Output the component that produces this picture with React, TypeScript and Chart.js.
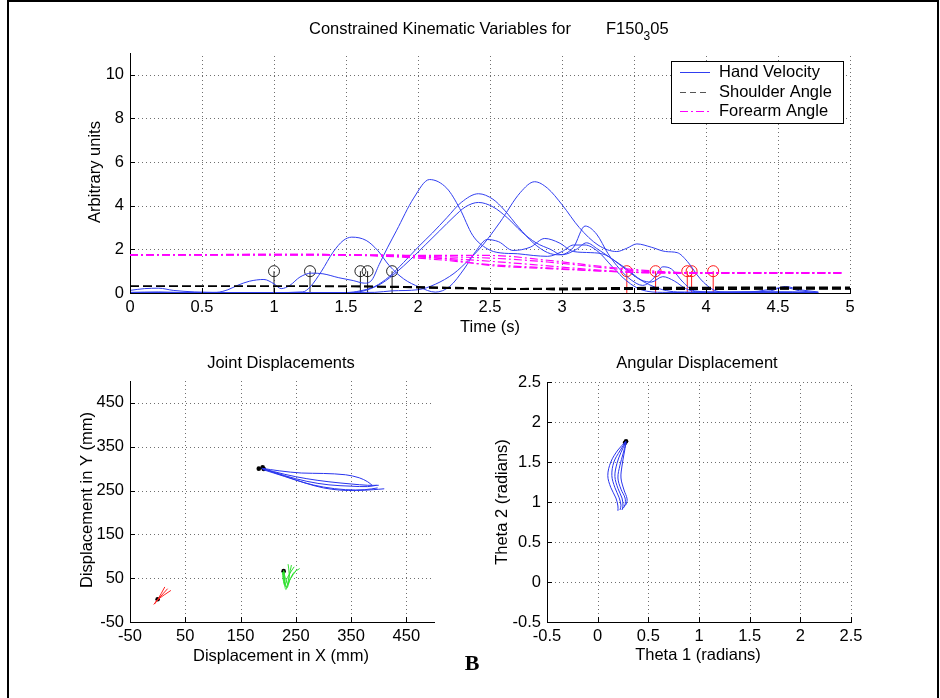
import React, { useEffect, useRef } from "react";
import { Chart, registerables } from "chart.js";

Chart.register(...registerables);

const FONT = "'Liberation Sans', Arial, Helvetica, sans-serif";
const FONT_SIZE = 16.5;
const GRID_COLOR = "#6f6f6f";
const VEL_COLOR = "rgb(48, 62, 240)";
const SHOULDER_COLOR = "#000000";
const FOREARM_COLOR = "#ff00ff";
const DASH = [9, 4];
const DASH_DOT = [8, 3, 2, 3];

// ---------- Top panel: kinematic variables over time ----------
const TIME_RANGE = [0, 5];
const UNIT_RANGE = [0, 11];
const TIME_TICKS = [0, 0.5, 1, 1.5, 2, 2.5, 3, 3.5, 4, 4.5, 5];
const UNIT_TICKS = [0, 2, 4, 6, 8, 10];
const MOVE_STARTS = [1.0, 1.25, 1.6, 1.65, 1.82];
const MOVE_ENDS = [3.45, 3.65, 3.87, 3.9, 4.05];
const MARKER_LEVEL = 1;

const handVelocity1 = [
  [0, 0.03], [0.2, 0.05], [0.4, 0.02], [0.6, 0.03], [0.68, 0.15], [0.75, 0.36], [0.83, 0.54],
  [0.93, 0.62], [1.0, 0.42], [1.05, 0.2], [1.11, 0.35], [1.18, 0.73], [1.26, 0.91], [1.34, 0.88],
  [1.45, 0.7], [1.55, 0.57], [1.63, 0.45], [1.68, 0.6], [1.73, 1.3], [1.79, 2.1], [1.85, 2.85],
  [1.97, 4.35], [2.08, 5.2], [2.2, 4.8], [2.29, 3.87], [2.38, 2.64], [2.48, 2.03], [2.57, 1.84],
  [2.69, 1.8], [2.8, 1.72], [2.9, 1.68], [3.0, 1.9], [3.08, 2.2], [3.16, 2.2], [3.25, 1.9],
  [3.35, 1.2], [3.45, 0.55], [3.55, 0.15], [3.7, 0.03], [4.0, 0.02], [4.3, 0.04], [4.6, 0.02], [4.78, 0.02],
];
const handVelocity2 = [
  [0, 0.02], [0.5, 0.02], [1.0, 0.02], [1.2, 0.05], [1.25, 0.27], [1.33, 1.0], [1.41, 1.87],
  [1.48, 2.4], [1.54, 2.56], [1.64, 2.41], [1.72, 1.95], [1.8, 1.26], [1.9, 0.65], [2.01, 0.27],
  [2.12, 0.04], [2.22, 0.3], [2.32, 1.1], [2.4, 1.9], [2.48, 2.45], [2.56, 2.35], [2.66, 1.95],
  [2.78, 2.1], [2.88, 2.5], [2.98, 2.3], [3.08, 1.9], [3.2, 1.85], [3.3, 1.75], [3.42, 1.2],
  [3.52, 0.7], [3.6, 0.4], [3.7, 0.15], [3.8, 0.05], [4.2, 0.03], [4.6, 0.05], [4.7, 0.02],
];
const handVelocity3 = [
  [0, 0.01], [0.5, 0.01], [1.0, 0.01], [1.5, 0.02], [1.6, 0.1], [1.7, 0.3], [1.8, 0.75], [1.9, 1.4],
  [2.0, 2.1], [2.1, 2.75], [2.2, 3.45], [2.3, 4.15], [2.42, 4.55], [2.52, 4.3], [2.6, 3.8], [2.7, 3.0],
  [2.8, 2.3], [2.9, 1.85], [2.98, 1.75], [3.08, 2.1], [3.16, 3.07], [3.24, 2.7], [3.32, 1.8],
  [3.4, 1.1], [3.48, 0.6], [3.56, 0.35], [3.64, 0.7], [3.7, 1.2], [3.76, 1.1], [3.84, 0.5],
  [3.92, 0.1], [4.1, 0.03], [4.5, 0.05], [4.75, 0.02],
];
const handVelocity4 = [
  [0, 0.0], [1.0, 0.0], [1.55, 0.02], [1.65, 0.15], [1.75, 0.45], [1.85, 0.95], [1.95, 1.55],
  [2.05, 2.2], [2.15, 2.85], [2.25, 3.5], [2.33, 3.95], [2.42, 4.15], [2.52, 3.95], [2.62, 3.45],
  [2.72, 2.8], [2.82, 2.3], [2.92, 2.0], [3.0, 1.75], [3.1, 2.0], [3.17, 2.3], [3.25, 2.0],
  [3.35, 1.55], [3.45, 1.1], [3.55, 0.6], [3.62, 0.5], [3.7, 0.75], [3.78, 0.55], [3.86, 0.2],
  [3.95, 0.05], [4.3, 0.05], [4.55, 0.25], [4.65, 0.1], [4.78, 0.02],
];
const handVelocity5 = [
  [0, 0.12], [0.1, 0.2], [0.2, 0.22], [0.3, 0.12], [0.45, 0.05], [0.7, 0.02], [1.2, 0.02],
  [1.7, 0.03], [1.82, 0.1], [2.0, 0.15], [2.12, 0.4], [2.25, 0.9], [2.35, 1.5], [2.45, 2.2],
  [2.57, 3.25], [2.71, 4.6], [2.81, 5.1], [2.9, 4.8], [3.0, 4.05], [3.12, 3.0], [3.25, 2.2],
  [3.38, 1.9], [3.45, 2.05], [3.52, 2.25], [3.62, 2.1], [3.72, 1.9], [3.8, 1.85], [3.87, 1.45],
  [3.96, 0.65], [4.05, 0.15], [4.15, 0.03], [4.45, 0.1], [4.55, 0.3], [4.65, 0.15], [4.78, 0.05],
];

const shoulderAngle1 = [[0, 0.3], [1.0, 0.3], [1.6, 0.3], [2.0, 0.25], [2.5, 0.2], [3.0, 0.22], [3.5, 0.25], [5, 0.27]];
const shoulderAngle2 = [[0, 0.3], [1.25, 0.3], [1.8, 0.27], [2.3, 0.2], [2.8, 0.17], [3.3, 0.2], [3.8, 0.24], [5, 0.25]];
const shoulderAngle3 = [[0, 0.3], [1.6, 0.3], [2.0, 0.26], [2.5, 0.19], [3.0, 0.16], [3.5, 0.2], [4.0, 0.22], [5, 0.22]];
const shoulderAngle4 = [[0, 0.3], [1.65, 0.3], [2.1, 0.25], [2.6, 0.18], [3.1, 0.16], [3.6, 0.18], [5, 0.2]];
const shoulderAngle5 = [[0, 0.3], [1.8, 0.3], [2.2, 0.26], [2.7, 0.2], [3.2, 0.17], [3.7, 0.17], [5, 0.18]];

const forearmAngle1 = [[0, 1.75], [1.0, 1.77], [1.3, 1.77], [1.6, 1.73], [2.0, 1.65], [2.4, 1.5], [2.8, 1.3], [3.2, 1.08], [3.5, 0.95], [3.8, 0.9], [4.95, 0.9]];
const forearmAngle2 = [[0, 1.75], [1.25, 1.77], [1.7, 1.7], [2.1, 1.55], [2.5, 1.3], [2.9, 1.15], [3.3, 1.0], [3.6, 0.93], [4.95, 0.92]];
const forearmAngle3 = [[0, 1.75], [1.6, 1.74], [2.0, 1.68], [2.5, 1.6], [2.9, 1.42], [3.3, 1.15], [3.6, 0.98], [3.9, 0.93], [4.95, 0.93]];
const forearmAngle4 = [[0, 1.75], [1.65, 1.74], [2.1, 1.72], [2.5, 1.72], [2.9, 1.5], [3.3, 1.2], [3.7, 0.98], [4.0, 0.91], [4.95, 0.91]];
const forearmAngle5 = [[0, 1.75], [1.8, 1.74], [2.2, 1.55], [2.5, 1.26], [2.9, 1.12], [3.3, 1.0], [3.6, 0.94], [4.95, 0.94]];

// ---------- Bottom-left panel: joint displacements (mm) ----------
const MM_RANGE = [-50, 500];
const MM_TICKS = [-50, 50, 150, 250, 350, 450];
const handPath1 = [[188, 301], [220, 295], [260, 290], [300, 289], [340, 286], [365, 279], [380, 270], [388, 262]];
const handPath2 = [[190, 300], [230, 287], [270, 277], [310, 270], [350, 265], [380, 262], [400, 262]];
const handPath3 = [[190, 300], [230, 284], [270, 271], [310, 263], [350, 260], [380, 259], [396, 262]];
const handPath4 = [[192, 299], [230, 283], [270, 266], [300, 256], [330, 251], [360, 250], [390, 252], [410, 254]];
const handPath5 = [[190, 298], [230, 282], [265, 268], [300, 258], [340, 252], [375, 252], [398, 256]];
const elbowPath1 = [[228, 66], [229, 45], [232, 24], [237, 40], [246, 62], [257, 72]];
const elbowPath2 = [[229, 64], [230, 42], [234, 28], [240, 48], [251, 68]];
const elbowPath3 = [[227, 62], [229, 40], [233, 30], [238, 55], [242, 80]];
const elbowPath4 = [[228, 68], [231, 50], [236, 36], [238, 60], [236, 82]];
const elbowPath5 = [[226, 64], [227, 48], [230, 34], [235, 52], [247, 76]];
const shoulderPath1 = [[-7, -10], [0, 1], [13, 30]];
const shoulderPath2 = [[-6, -9], [0, 1], [24, 22]];
const shoulderPath3 = [[-5, -8], [1, 2], [18, 26]];
const jointStarts = [[183, 300], [190, 303], [192, 299], [228, 66], [0, 2]];

// ---------- Bottom-right panel: angular displacement (radians) ----------
const RAD_RANGE = [-0.5, 2.5];
const RAD_TICKS = [-0.5, 0, 0.5, 1, 1.5, 2, 2.5];
const anglePath1 = [[0.28, 1.76], [0.2, 1.65], [0.13, 1.5], [0.1, 1.33], [0.13, 1.18], [0.18, 1.05], [0.2, 0.95], [0.2, 0.89]];
const anglePath2 = [[0.28, 1.76], [0.22, 1.64], [0.16, 1.5], [0.14, 1.33], [0.17, 1.18], [0.21, 1.06], [0.23, 0.96], [0.22, 0.9]];
const anglePath3 = [[0.28, 1.75], [0.23, 1.62], [0.19, 1.48], [0.17, 1.32], [0.2, 1.17], [0.24, 1.05], [0.25, 0.95], [0.24, 0.9]];
const anglePath4 = [[0.28, 1.74], [0.25, 1.6], [0.22, 1.46], [0.2, 1.3], [0.23, 1.16], [0.27, 1.05], [0.27, 0.96], [0.25, 0.92]];
const anglePath5 = [[0.28, 1.74], [0.26, 1.6], [0.24, 1.45], [0.23, 1.3], [0.26, 1.15], [0.29, 1.04], [0.28, 0.97], [0.26, 0.95]];
const angleStarts = [[0.28, 1.76], [0.27, 1.74]];

type Pt = number[];
const toXY = (pts: Pt[]) => pts.map(([x, y]) => ({ x, y }));

function axisOptions(range: number[], ticks: number[], fit: number, isX: boolean) {
  return {
    type: "linear",
    min: range[0],
    max: range[1],
    afterBuildTicks: (s: any) => {
      s.ticks = ticks.map((v) => ({ value: v }));
    },
    afterFit: (s: any) => {
      if (isX) s.height = fit;
      else s.width = fit;
    },
    grid: { display: false, drawTicks: false },
    border: { display: true, color: "#000", width: 1 },
    ticks: {
      color: "#000",
      font: { family: FONT, size: FONT_SIZE },
      padding: isX ? 5 : 6,
      maxRotation: 0,
      autoSkip: false,
      callback: (v: any) => String(v),
    },
  };
}

type Txt = { text: string; x: number; y: number; rotate?: boolean };

function decorPlugin(
  ox: number,
  oy: number,
  xTicks: number[],
  yTicks: number[],
  texts: Txt[],
  extra?: (ctx: CanvasRenderingContext2D) => void
) {
  return {
    id: "decor",
    beforeDatasetsDraw(chart: any) {
      const { ctx, chartArea, scales } = chart;
      const { left, right, top, bottom } = chartArea;
      ctx.save();
      ctx.strokeStyle = GRID_COLOR;
      ctx.lineWidth = 1;
      ctx.setLineDash([1, 3]);
      ctx.beginPath();
      for (const v of xTicks) {
        const px = Math.round(scales.x.getPixelForValue(v)) + 0.5;
        if (px <= left + 1.5) continue;
        ctx.moveTo(px, bottom);
        ctx.lineTo(px, top);
      }
      for (const v of yTicks) {
        const py = Math.round(scales.y.getPixelForValue(v)) + 0.5;
        if (py >= bottom - 1.5) continue;
        ctx.moveTo(left, py);
        ctx.lineTo(right, py);
      }
      ctx.stroke();
      ctx.restore();
    },
    afterDatasetsDraw(chart: any) {
      const { ctx, chartArea, scales } = chart;
      const { left, bottom } = chartArea;
      ctx.save();
      ctx.strokeStyle = "#000";
      ctx.lineWidth = 1;
      ctx.setLineDash([]);
      ctx.beginPath();
      for (const v of xTicks) {
        const px = Math.round(scales.x.getPixelForValue(v)) + 0.5;
        ctx.moveTo(px, bottom);
        ctx.lineTo(px, bottom - 5);
      }
      for (const v of yTicks) {
        const py = Math.round(scales.y.getPixelForValue(v)) + 0.5;
        ctx.moveTo(left, py);
        ctx.lineTo(left + 5, py);
      }
      ctx.stroke();
      ctx.restore();
      if (extra) {
        ctx.save();
        ctx.translate(-ox, -oy);
        extra(ctx);
        ctx.restore();
      }
    },
    afterDraw(chart: any) {
      const ctx = chart.ctx as CanvasRenderingContext2D;
      ctx.save();
      ctx.fillStyle = "#000";
      ctx.font = `${FONT_SIZE}px ${FONT}`;
      ctx.textAlign = "center";
      ctx.textBaseline = "middle";
      for (const t of texts) {
        ctx.save();
        ctx.translate(t.x - ox, t.y - oy);
        if (t.rotate) ctx.rotate(-Math.PI / 2);
        ctx.fillText(t.text, 0, 0);
        ctx.restore();
      }
      ctx.restore();
    },
  };
}

function drawTopTitle(ctx: CanvasRenderingContext2D) {
  ctx.fillStyle = "#000";
  ctx.textAlign = "left";
  ctx.textBaseline = "alphabetic";
  ctx.font = `${FONT_SIZE}px ${FONT}`;
  ctx.fillText("Constrained Kinematic Variables for", 309, 34);
  let x = 606;
  ctx.fillText("F150", x, 34);
  x += ctx.measureText("F150").width;
  ctx.font = `12px ${FONT}`;
  ctx.fillText("3", x, 40);
  x += ctx.measureText("3").width;
  ctx.font = `${FONT_SIZE}px ${FONT}`;
  ctx.fillText("05", x, 34);
}

function drawTopLegend(ctx: CanvasRenderingContext2D) {
  ctx.fillStyle = "#fff";
  ctx.fillRect(671, 61, 172, 62);
  ctx.strokeStyle = "#000";
  ctx.lineWidth = 1;
  ctx.setLineDash([]);
  ctx.strokeRect(671.5, 61.5, 172, 62);
  const rows = [
    { label: "Hand Velocity", color: VEL_COLOR, dash: [] as number[], y: 72.5 },
    { label: "Shoulder Angle", color: "#555555", dash: [6, 4], y: 92.5 },
    { label: "Forearm Angle", color: FOREARM_COLOR, dash: DASH_DOT, y: 111.5 },
  ];
  for (const r of rows) {
    ctx.save();
    ctx.strokeStyle = r.color;
    ctx.lineWidth = 1;
    ctx.setLineDash(r.dash);
    ctx.beginPath();
    ctx.moveTo(680, r.y);
    ctx.lineTo(710, r.y);
    ctx.stroke();
    ctx.restore();
    ctx.fillStyle = "#000";
    ctx.font = `${FONT_SIZE}px ${FONT}`;
    ctx.textAlign = "left";
    ctx.textBaseline = "middle";
    ctx.fillText(r.label, 719, r.y);
  }
}

function lineSet(pts: Pt[], color: string, dash: number[], width = 1) {
  return {
    data: toXY(pts),
    borderColor: color,
    borderWidth: width,
    borderDash: dash,
    pointRadius: 0,
    fill: false,
    cubicInterpolationMode: "monotone",
  };
}

function stemSet(t: number, color: string) {
  return {
    data: toXY([[t, 0], [t, MARKER_LEVEL]]),
    borderColor: color,
    borderWidth: 1,
    pointRadius: [0, 5.5],
    pointBorderColor: color,
    pointBorderWidth: 1,
    pointBackgroundColor: "rgba(0,0,0,0)",
    tension: 0,
  };
}

function pathSet(pts: Pt[], color: string) {
  return {
    data: toXY(pts),
    showLine: true,
    borderColor: color,
    borderWidth: 1,
    pointRadius: 0,
    tension: 0.35,
  };
}

function dotSet(pts: Pt[]) {
  return {
    data: toXY(pts),
    showLine: false,
    pointRadius: 2.3,
    pointBackgroundColor: "#000",
    pointBorderColor: "#000",
    pointBorderWidth: 0,
  };
}

const baseOptions = {
  responsive: false,
  animation: false,
  events: [],
  plugins: { legend: { display: false }, title: { display: false }, tooltip: { enabled: false } },
};

function topConfig() {
  const datasets: any[] = [
    ...[forearmAngle1, forearmAngle2, forearmAngle3, forearmAngle4, forearmAngle5].map((p) =>
      lineSet(p, FOREARM_COLOR, DASH_DOT, 1.2)
    ),
    ...[shoulderAngle1, shoulderAngle2, shoulderAngle3, shoulderAngle4, shoulderAngle5].map((p) =>
      lineSet(p, SHOULDER_COLOR, DASH, 1.3)
    ),
    ...[handVelocity1, handVelocity2, handVelocity3, handVelocity4, handVelocity5].map((p) =>
      lineSet(p, VEL_COLOR, [], 1)
    ),
    ...MOVE_STARTS.map((t) => stemSet(t, "#222222")),
    ...MOVE_ENDS.map((t) => stemSet(t, "#ff1a1a")),
  ];
  return {
    type: "line",
    data: { datasets },
    options: {
      ...baseOptions,
      layout: { padding: { top: 53, right: 90, left: 0, bottom: 0 } },
      scales: {
        x: axisOptions(TIME_RANGE, TIME_TICKS, 52, true),
        y: axisOptions(UNIT_RANGE, UNIT_TICKS, 130, false),
      },
    },
    plugins: [
      decorPlugin(
        0,
        0,
        TIME_TICKS,
        UNIT_TICKS,
        [
          { text: "Time (s)", x: 490, y: 327 },
          { text: "Arbitrary units", x: 95, y: 172, rotate: true },
        ],
        (ctx) => {
          drawTopLegend(ctx);
          drawTopTitle(ctx);
        }
      ),
    ],
  };
}

function jointConfig() {
  const datasets: any[] = [
    ...[handPath1, handPath2, handPath3, handPath4, handPath5].map((p) => pathSet(p, "rgb(40, 52, 238)")),
    ...[elbowPath1, elbowPath2, elbowPath3, elbowPath4, elbowPath5].map((p) => pathSet(p, "#2ee02e")),
    ...[shoulderPath1, shoulderPath2, shoulderPath3].map((p) => pathSet(p, "#ff2020")),
    dotSet(jointStarts),
  ];
  return {
    type: "scatter",
    data: { datasets },
    options: {
      ...baseOptions,
      layout: { padding: { top: 36, right: 36, left: 0, bottom: 0 } },
      scales: {
        x: axisOptions(MM_RANGE, MM_TICKS, 76, true),
        y: axisOptions(MM_RANGE, MM_TICKS, 130, false),
      },
    },
    plugins: [
      decorPlugin(0, 345, MM_TICKS, MM_TICKS, [
        { text: "Joint Displacements", x: 281, y: 363 },
        { text: "Displacement in X (mm)", x: 281, y: 656 },
        { text: "Displacement in Y (mm)", x: 87, y: 500, rotate: true },
      ]),
    ],
  };
}

function angleConfig() {
  const datasets: any[] = [
    ...[anglePath1, anglePath2, anglePath3, anglePath4, anglePath5].map((p) => pathSet(p, "rgb(40, 52, 238)")),
    dotSet(angleStarts),
  ];
  return {
    type: "scatter",
    data: { datasets },
    options: {
      ...baseOptions,
      layout: { padding: { top: 37, right: 89, left: 0, bottom: 0 } },
      scales: {
        x: axisOptions(RAD_RANGE, RAD_TICKS, 76, true),
        y: axisOptions(RAD_RANGE, RAD_TICKS, 77, false),
      },
    },
    plugins: [
      decorPlugin(470, 345, RAD_TICKS, RAD_TICKS, [
        { text: "Angular Displacement", x: 697, y: 363 },
        { text: "Theta 1 (radians)", x: 698, y: 655 },
        { text: "Theta 2 (radians)", x: 502, y: 502, rotate: true },
      ]),
    ],
  };
}

function Panel(props: { left: number; top: number; width: number; height: number; make: () => any }) {
  const ref = useRef<HTMLCanvasElement | null>(null);
  useEffect(() => {
    if (!ref.current) return;
    const chart = new Chart(ref.current, props.make());
    return () => chart.destroy();
  }, []);
  return (
    <canvas
      ref={ref}
      width={props.width}
      height={props.height}
      style={{ position: "absolute", left: props.left, top: props.top, width: props.width, height: props.height }}
    />
  );
}

export default function App() {
  return (
    <div
      style={{
        position: "fixed",
        left: 0,
        top: 0,
        width: 940,
        height: 698,
        background: "#fff",
        overflow: "hidden",
      }}
    >
      <Panel left={0} top={0} width={940} height={345} make={topConfig} />
      <Panel left={0} top={345} width={470} height={353} make={jointConfig} />
      <Panel left={470} top={345} width={470} height={353} make={angleConfig} />
      <div
        style={{
          position: "absolute",
          left: 452,
          top: 652,
          width: 40,
          textAlign: "center",
          font: "bold 22px 'Liberation Serif', 'Times New Roman', serif",
          lineHeight: "22px",
          color: "#000",
        }}
      >
        B
      </div>
      <div
        style={{
          position: "absolute",
          left: 7,
          top: 0,
          width: 928,
          height: 710,
          borderLeft: "2px solid #000",
          borderTop: "2px solid #000",
          borderRight: "2px solid #000",
          pointerEvents: "none",
        }}
      />
    </div>
  );
}
